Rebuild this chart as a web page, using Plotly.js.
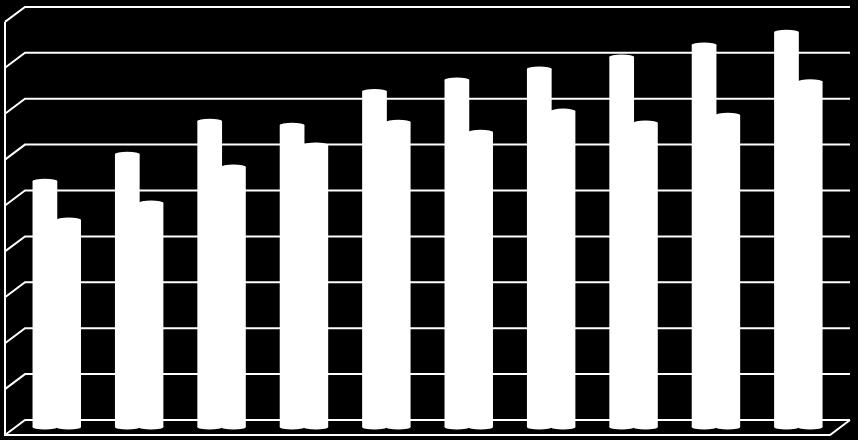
<!DOCTYPE html>
<html><head><meta charset="utf-8">
<script src="https://cdn.plot.ly/plotly-3.0.1.min.js"></script>
<style>html,body{margin:0;padding:0;background:#000;overflow:hidden}</style>
</head><body><div id="chart" style="width:858px;height:440px"></div>
<script>
const categories = [0,1,2,3,4,5,6,7,8,9];
const seriesA = [53.5,59.4,66.6,65.7,73.1,75.6,78.0,80.6,83.2,86.0];
const seriesB = [45.1,48.8,56.6,61.4,66.4,64.2,68.8,66.2,67.9,75.2];
const gridValues = [0,10,20,30,40,50,60,70,80,90];

const xRange = [-0.686, 9.727], yRange = [-2.83, 93.03];
const pxX = (xRange[1]-xRange[0])/858, pxY = (yRange[1]-yRange[0])/440;
const backShift = 7*pxY;            // back wall sits behind the bars
const depthX = 20*pxX, depthY = 15*pxY;
const wallL = xRange[0]+25*pxX, wallR = xRange[0]+850*pxX;
const barW = 0.3, offA = -0.291, offB = -0.003;
const capRy = 2.6*pxY;

const lx = [], ly = [];
gridValues.forEach(g => {
  lx.push(wallL-depthX, wallL, wallR, null);
  ly.push(g+backShift-depthY, g+backShift, g+backShift, null);
});
const topGrid = gridValues[gridValues.length-1]+backShift;
// left edge and floor
lx.push(wallL-depthX, wallL-depthX, wallR-depthX, wallR);
ly.push(topGrid-depthY, backShift-depthY, backShift-depthY, backShift);

const shapes = [];
function caps(vals, off){
  vals.forEach((v,i)=>{
    const x0 = categories[i]+off, x1 = x0+barW;
    [v,0].forEach(c=>shapes.push({type:'circle',xref:'x',yref:'y',x0,x1,y0:c-capRy,y1:c+capRy,
      fillcolor:'#fff',line:{width:0},layer:'above'}));
  });
}
caps(seriesA,offA); caps(seriesB,offB);

const data = [
 {type:'scatter',mode:'lines',x:lx,y:ly,line:{color:'#fff',width:2},hoverinfo:'skip',showlegend:false},
 {type:'bar',x:categories,y:seriesA,width:barW,offset:offA,marker:{color:'#fff',line:{width:0}},showlegend:false},
 {type:'bar',x:categories,y:seriesB,width:barW,offset:offB,marker:{color:'#fff',line:{width:0}},showlegend:false}
];
const layout = {
 width:858,height:440,margin:{l:0,r:0,t:0,b:0,pad:0},
 paper_bgcolor:'#000',plot_bgcolor:'#000',barmode:'overlay',showlegend:false,shapes,
 xaxis:{range:xRange,visible:false,fixedrange:true},
 yaxis:{range:yRange,visible:false,fixedrange:true}
};
Plotly.newPlot('chart',data,layout,{displayModeBar:false,staticPlot:true});
</script></body></html>
